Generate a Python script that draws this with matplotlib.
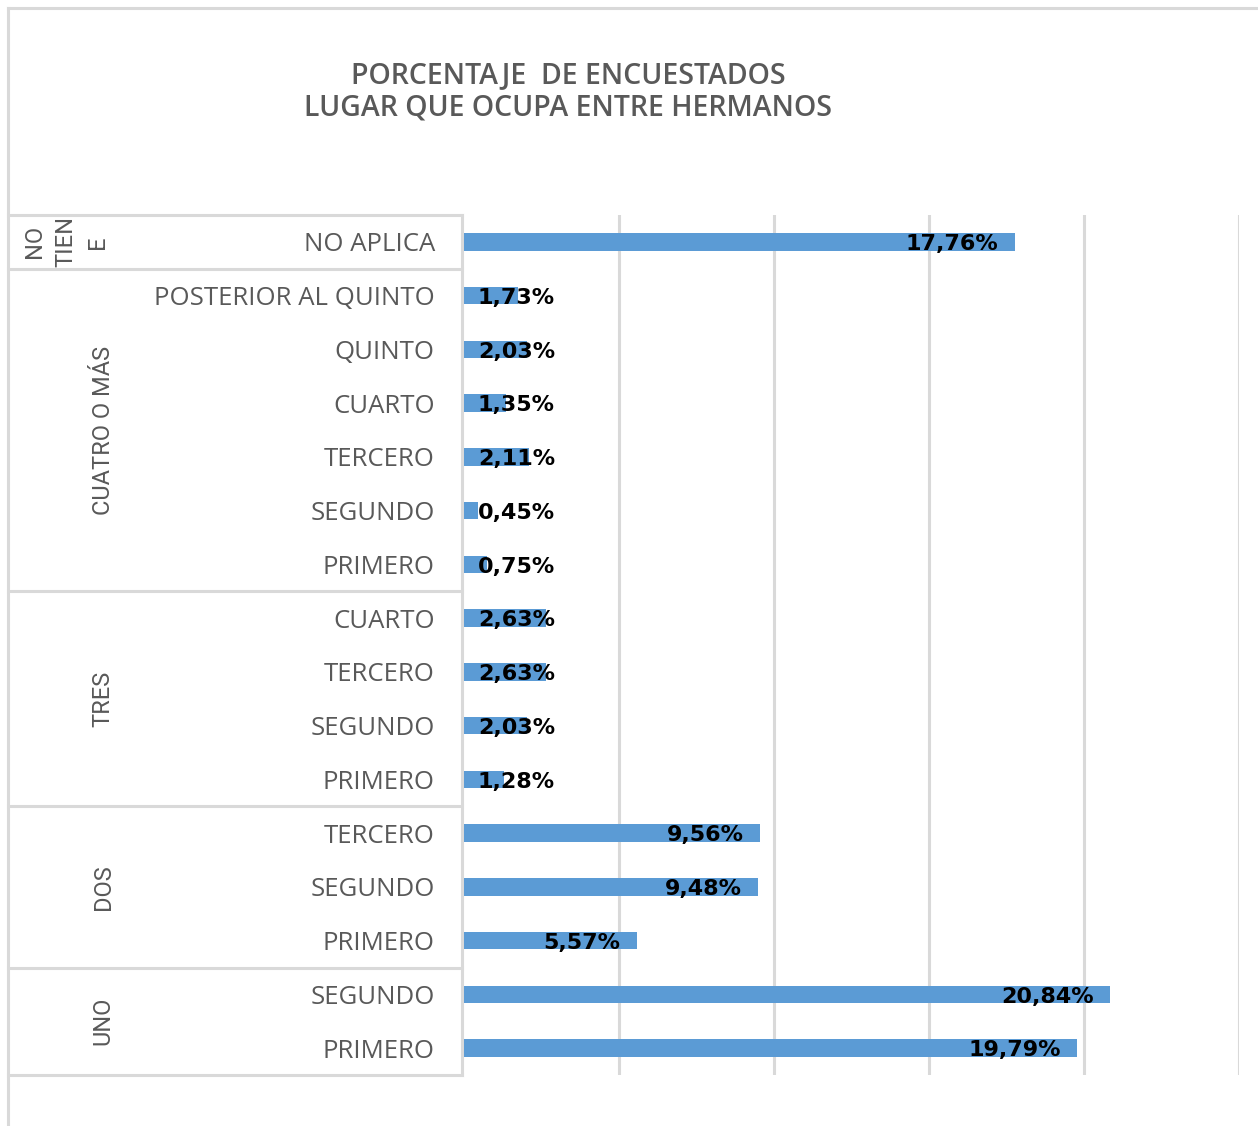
import matplotlib
matplotlib.use('Agg')
import matplotlib.pyplot as plt
from matplotlib.lines import Line2D

TITLE = 'PORCENTAJE  DE ENCUESTADOS\nLUGAR QUE OCUPA ENTRE HERMANOS'

GROUP_LABELS = ['NO\nTIEN\nE', 'CUATRO O MÁS', 'TRES', 'DOS', 'UNO']
GROUP_SIZES = [1, 6, 4, 3, 2]

CATEGORIES = ['NO APLICA',
              'POSTERIOR AL QUINTO', 'QUINTO', 'CUARTO', 'TERCERO', 'SEGUNDO', 'PRIMERO',
              'CUARTO', 'TERCERO', 'SEGUNDO', 'PRIMERO',
              'TERCERO', 'SEGUNDO', 'PRIMERO',
              'SEGUNDO', 'PRIMERO']
VALUES = [17.76,
          1.73, 2.03, 1.35, 2.11, 0.45, 0.75,
          2.63, 2.63, 2.03, 1.28,
          9.56, 9.48, 5.57,
          20.84, 19.79]

BAR_COLOR = '#5B9BD5'
GRID_COLOR = '#D9D9D9'
TEXT_GRAY = '#595959'

W, H = 1258, 1126
fig = plt.figure(figsize=(W / 100, H / 100), dpi=100)

# chart area border (cropped on right/bottom)
fig.add_artist(Line2D([8 / W, 1], [1 - 8 / H, 1 - 8 / H], color=GRID_COLOR, lw=2.2))
fig.add_artist(Line2D([8 / W, 8 / W], [0, 1 - 8 / H], color=GRID_COLOR, lw=2.2))

# plot area
left, right, top, bottom = 464, 1239, 215, 1075
ax = fig.add_axes([left / W, 1 - bottom / H, (right - left) / W, (bottom - top) / H])

n = len(VALUES)
y = list(range(n))
ax.barh(y, VALUES, height=0.33, color=BAR_COLOR, zorder=3)

ax.set_xlim(0, 25)
ax.set_ylim(n - 0.5, -0.5)
ax.set_xticks([5, 10, 15, 20, 25])
ax.tick_params(axis='x', length=0, labelbottom=False)
ax.grid(axis='x', color=GRID_COLOR, lw=2.2, zorder=0)
for s in ax.spines.values():
    s.set_visible(False)

ax.set_yticks(y)
ax.set_yticklabels(CATEGORIES, fontsize=18.5, color=TEXT_GRAY, family=['Open Sans', 'DejaVu Sans'])
ax.tick_params(axis='y', length=0, pad=21)

# data labels (inside end, clamped at the axis)
for yi, v in zip(y, VALUES):
    label = f'{v:.2f}%'.replace('.', ',')
    if v < 3.5:
        ax.text(0.45, yi + 0.04, label, ha='left', va='center', fontsize=16,
                fontweight='bold', color='black', zorder=4)
    else:
        ax.text(v - 0.52, yi + 0.04, label, ha='right', va='center', fontsize=16,
                fontweight='bold', color='black', zorder=4)

# category table
tr = ax.get_yaxis_transform()
x_tab_left = (8 - left) / (right - left)
x_tab_right = (462 - left) / (right - left)
ax.plot([x_tab_right, x_tab_right], [-0.5, n - 0.5], transform=tr, color=GRID_COLOR,
        lw=2.2, clip_on=False)
bounds = [-0.5]
for size in GROUP_SIZES:
    bounds.append(bounds[-1] + size)
for b in bounds:
    ax.plot([x_tab_left, x_tab_right], [b, b], transform=tr, color=GRID_COLOR,
            lw=2.2, clip_on=False)

group_fonts = ['Roboto', 'DejaVu Sans']
for i, label in enumerate(GROUP_LABELS):
    yc = (bounds[i] + bounds[i + 1]) / 2
    if '\n' in label:
        xc = (66 - left) / (right - left)
        ax.text(xc, yc, label, transform=tr, rotation=90, ha='center', va='center',
                multialignment='center', linespacing=1.45, fontsize=17,
                color=TEXT_GRAY, family=group_fonts, clip_on=False)
    else:
        xc = (103 - left) / (right - left)
        ax.text(xc, yc, label, transform=tr, rotation=90, ha='center', va='center',
                fontsize=17, color=TEXT_GRAY, family=group_fonts, clip_on=False)

fig.text(568 / W, 1 - 92 / H, TITLE, ha='center', va='center', fontsize=20.5,
         fontweight='semibold', color=TEXT_GRAY, family=['Open Sans', 'DejaVu Sans'],
         linespacing=1.13)

fig.savefig('out.png', dpi=100)
